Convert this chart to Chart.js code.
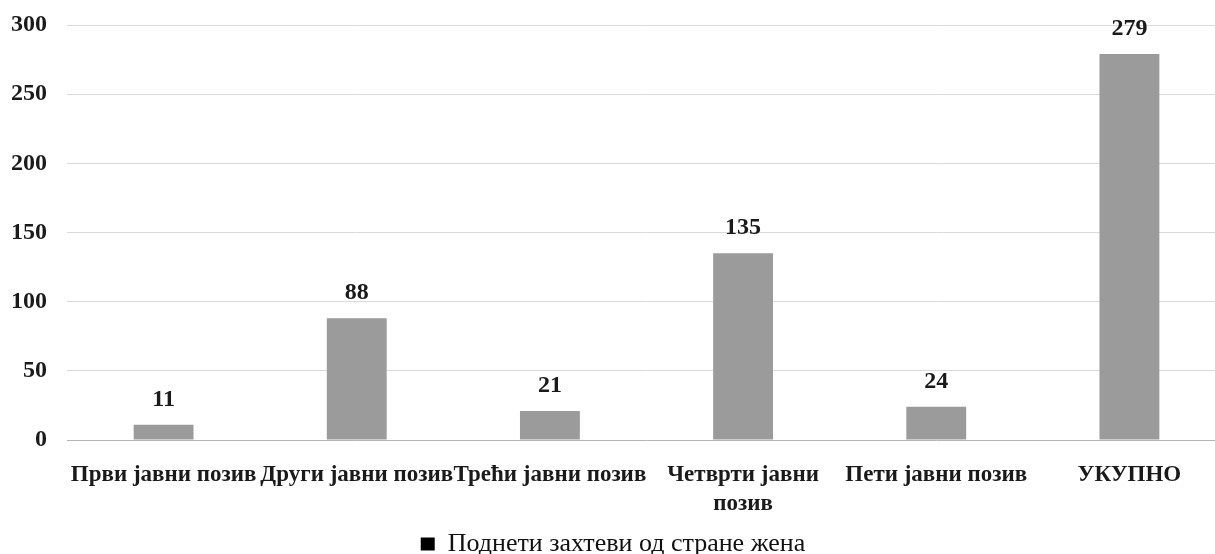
<!DOCTYPE html>
<html>
<head>
<meta charset="utf-8">
<script src="https://cdn.jsdelivr.net/npm/chart.js@4/dist/chart.umd.min.js"></script>
<style>
    html, body { margin: 0; padding: 0; background: #fff; overflow: hidden; }
    #caixa { width: 1226px; height: 567px; position: relative; }
</style>
</head>
<body>
<div id="caixa"><canvas id="grafico1"></canvas></div>
<script>
// dados
var pozivi = ['Први јавни позив', 'Други јавни позив', 'Трећи јавни позив', ['Четврти јавни', 'позив'], 'Пети јавни позив', 'УКУПНО'];
var zahtevi = [11, 88, 21, 135, 24, 279];
var nazivSerije = 'Поднети захтеви од стране жена';
var yMin = 0, yMax = 300, yKorak = 50;

var fonte = "'Liberation Serif', 'Times New Roman', serif";

// numeros em cima das barras
var rotulosValores = {
    id: 'rotulosValores',
    afterDatasetsDraw: function(chart) {
        var ctx = chart.ctx;
        var meta = chart.getDatasetMeta(0);
        ctx.save();
        ctx.font = 'bold 24px ' + fonte;
        ctx.fillStyle = '#1a1a1a';
        ctx.textAlign = 'center';
        ctx.textBaseline = 'alphabetic';
        meta.data.forEach(function(barra, i) {
            ctx.fillText(zahtevi[i], barra.x, barra.y - 19);
        });
        ctx.restore();
    }
};

function criarGrafico(nome)
{
    var ctx = document.getElementById(nome).getContext('2d');
    var chart = new Chart(ctx, {
        type: 'bar',
        data: {
            labels: pozivi,
            datasets: [{
                label: nazivSerije,
                backgroundColor: '#9b9b9b',
                borderWidth: 0,
                categoryPercentage: 1,
                barPercentage: 0.31,
                data: zahtevi
            }]
        },
        options: {
            responsive: true,
            maintainAspectRatio: false,
            animation: false,
            layout: { padding: { top: 25, left: 0, right: 0, bottom: 0 } },
            plugins: {
                tooltip: { enabled: false },
                legend: {
                    position: 'bottom',
                    labels: {
                        font: { family: fonte, size: 26 },
                        color: '#111',
                        boxWidth: 14,
                        boxHeight: 13,
                        padding: 4,
                        // quadradinho preto na legenda
                        generateLabels: function(chart) {
                            var itens = Chart.defaults.plugins.legend.labels.generateLabels(chart);
                            itens.forEach(function(it) {
                                it.fillStyle = '#000';
                                it.strokeStyle = '#000';
                                it.lineWidth = 0;
                            });
                            return itens;
                        }
                    }
                }
            },
            scales: {
                x: {
                    grid: { display: false, drawTicks: false },
                    border: { display: false },
                    ticks: {
                        color: '#1a1a1a',
                        font: { family: fonte, size: 23, weight: 'bold', lineHeight: 1.25 },
                        padding: 21,
                        maxRotation: 0,
                        autoSkip: false
                    },
                    afterFit: function(scale) { scale.height = 87; }
                },
                y: {
                    min: yMin,
                    max: yMax,
                    grid: {
                        drawTicks: false,
                        color: function(c) { return c.tick && c.tick.value === 0 ? '#b5b5b5' : '#dadada'; }
                    },
                    border: { display: false },
                    ticks: {
                        stepSize: yKorak,
                        color: '#1a1a1a',
                        font: { family: fonte, size: 24, weight: 'bold' },
                        padding: 20
                    },
                    afterFit: function(scale) {
                        scale.width = 67;
                        scale.paddingTop = 0;
                        scale.paddingBottom = 0;
                    }
                }
            }
        },
        plugins: [rotulosValores]
    });
}

criarGrafico('grafico1');
</script>
</body>
</html>
